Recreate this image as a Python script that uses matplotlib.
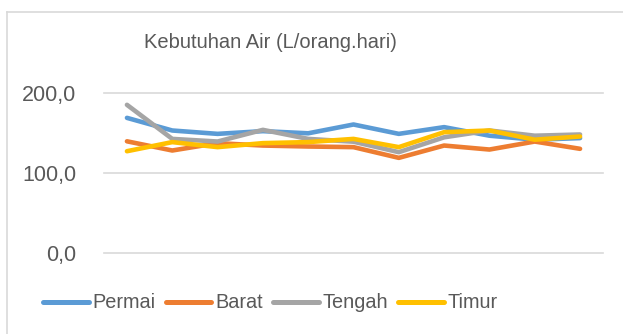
import matplotlib
matplotlib.use("Agg")
import matplotlib.pyplot as plt
from matplotlib.lines import Line2D

plt.rcParams['font.family'] = ['Liberation Sans', 'DejaVu Sans']

# Daily water demand per person for each area
points = list(range(1, 12))
permai = [168.3, 152.5, 148.3, 151.7, 149.0, 160.0, 148.3, 156.7, 146.0, 141.0, 143.0]
barat = [139.0, 127.5, 136.7, 133.7, 132.5, 131.7, 118.3, 133.7, 128.7, 138.7, 129.6]
tengah = [184.6, 142.0, 138.7, 153.3, 142.0, 138.5, 125.4, 144.0, 152.5, 146.0, 147.5]
timur = [126.6, 138.0, 131.7, 136.7, 138.0, 142.0, 131.7, 150.4, 152.5, 141.0, 145.0]

series_names = ["Permai", "Barat", "Tengah", "Timur"]
series_values = [permai, barat, tengah, timur]
series_colors = ["#5B9BD5", "#ED7D31", "#A5A5A5", "#FFC000"]
yticks = [0, 100, 200]
ytick_labels = ["0,0", "100,0", "200,0"]
title = "Kebutuhan Air (L/orang.hari)"

W, H = 623, 334
fig = plt.figure(figsize=(W / 100, H / 100), dpi=100)

# plot area in pixel terms
left, right = 104.3, 602.7
top, bottom = 92.5, 252.5
ax = fig.add_axes([left / W, 1 - bottom / H, (right - left) / W, (bottom - top) / H])

text_color = "#595959"
grid_color = "#D9D9D9"

xs = list(range(len(points)))
handles = []
for name, vals, col in zip(series_names, series_values, series_colors):
    h, = ax.plot(xs, vals, color=col, lw=3.3, solid_capstyle="round",
                 solid_joinstyle="round", label=name)
    handles.append(h)

ax.set_xlim(-0.5, len(points) - 0.5)
ax.set_ylim(0, 200)
ax.set_yticks(yticks)
ax.set_yticklabels(ytick_labels)
ax.set_xticks([])
for s in ax.spines.values():
    s.set_visible(False)
for y in yticks:
    ax.axhline(y, color=grid_color, lw=1.2, zorder=0, clip_on=False)
ax.tick_params(axis="y", length=0, pad=20, labelsize=15.5, labelcolor=text_color)

# chart frame (left and top edges)
fig.add_artist(Line2D([6.5 / W, 6.5 / W], [0, 1 - 11.5 / H], color=grid_color, lw=1.2,
                      transform=fig.transFigure))
fig.add_artist(Line2D([6.5 / W, 1], [1 - 11.5 / H, 1 - 11.5 / H], color=grid_color, lw=1.2,
                      transform=fig.transFigure))

fig.text(270 / W, 1 - 43 / H, title, ha="center", va="center", fontsize=14.5,
         color=text_color)

leg = fig.legend(handles=handles, labels=series_names, ncol=4, loc="center left",
                 bbox_to_anchor=(43 / W, 1 - 303 / H), frameon=False, fontsize=14.3,
                 handlelength=2.3, handletextpad=0.2, columnspacing=0.5,
                 borderpad=0, borderaxespad=0)
for t in leg.get_texts():
    t.set_color(text_color)
for lh in leg.get_lines():
    lh.set_linewidth(3.6)
    lh.set_solid_capstyle("round")

fig.savefig("out.png", dpi=100)
